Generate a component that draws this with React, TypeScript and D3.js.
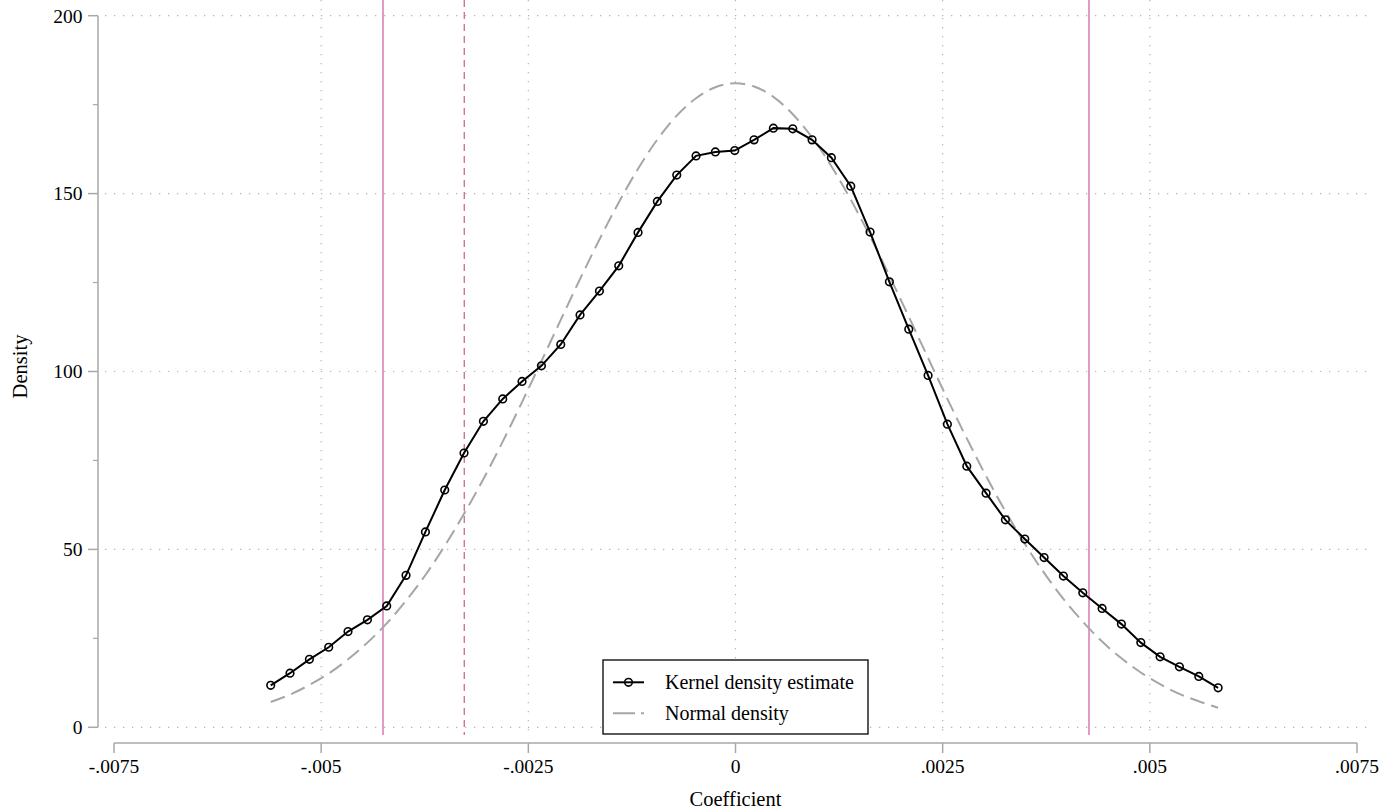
import React from "react";
import * as d3 from "d3";

// grid of the kernel estimate (50 points)
const gridX = [
  -0.005609, -0.005376, -0.005142, -0.004909, -0.004676, -0.004442, -0.004209, -0.003976, -0.003742, -0.003509,
  -0.003276, -0.003042, -0.002809, -0.002576, -0.002342, -0.002109, -0.001876, -0.001642, -0.001409, -0.001176,
  -0.000943, -0.000709, -0.000476, -0.000243, -0.000009, 0.000224, 0.000457, 0.000691, 0.000924, 0.001157,
  0.001391, 0.001624, 0.001857, 0.002091, 0.002324, 0.002557, 0.002791, 0.003024, 0.003257, 0.003491,
  0.003724, 0.003957, 0.004191, 0.004424, 0.004657, 0.004891, 0.005124, 0.005357, 0.005591, 0.005824,
];

const kdeY = [
  11.8, 15.2, 19.1, 22.5, 26.9, 30.2, 34.1, 42.7, 54.9, 66.7,
  77.1, 86.0, 92.3, 97.2, 101.6, 107.6, 115.9, 122.6, 129.7, 139.1,
  147.8, 155.2, 160.6, 161.7, 162.1, 165.1, 168.4, 168.2, 165.1, 160.1,
  152.1, 139.2, 125.2, 111.9, 98.9, 85.2, 73.4, 65.8, 58.3, 52.9,
  47.7, 42.5, 37.8, 33.4, 29.0, 23.8, 19.8, 17.0, 14.3, 11.1,
];

const normalY = [
  7.1, 9.2, 11.9, 15.1, 19.1, 23.8, 29.2, 35.6, 42.8, 51.0,
  60.0, 69.8, 80.3, 91.4, 102.9, 114.5, 126.0, 137.1, 147.5, 157.0,
  165.2, 171.9, 176.8, 179.9, 181.0, 180.1, 177.2, 172.3, 165.8, 157.7,
  148.3, 138.0, 126.9, 115.4, 103.8, 92.3, 81.2, 70.6, 60.7, 51.6,
  43.4, 36.1, 29.7, 24.1, 19.4, 15.4, 12.1, 9.4, 7.3, 5.5,
];

const xTicks = [-0.0075, -0.005, -0.0025, 0, 0.0025, 0.005, 0.0075];
const xGrid = [-0.005, -0.0025, 0, 0.0025, 0.005];
const yTicks = [0, 50, 100, 150, 200];
const yMinor = [25, 75, 125, 175];

const solidLines = [-0.004254, 0.004266];
const dashedLines = [-0.003273];

const legendItems = ["Kernel density estimate", "Normal density"];

const fmtX = (d: number) => (d === 0 ? "0" : String(d).replace("0.", "."));

export default function App() {
  const W = 1395;
  const H = 812;
  const x = d3.scaleLinear().domain([-0.0075, 0.0075]).range([114, 1357]);
  const y = d3.scaleLinear().domain([0, 200]).range([727.3, 15.7]);

  const plotL = 105;
  const plotR = 1372;
  const plotT = 0;
  const plotB = 735;
  const xAxisY = 743;
  const yAxisX = 98;

  const line = d3
    .line<[number, number]>()
    .x((d) => x(d[0]))
    .y((d) => y(d[1]));

  const kdePts: [number, number][] = gridX.map((v, i) => [v, kdeY[i]]);
  const normPts: [number, number][] = gridX.map((v, i) => [v, normalY[i]]);

  const gridColor = "#b4b4b4";
  const axisColor = "#a8a8a8";
  const pink = "#d0669e";
  const font = "'Liberation Serif', 'Times New Roman', serif";

  const legX = 603;
  const legY = 660;
  const legW = 265;
  const legH = 74;
  const rowY = [682.3, 713.3];

  return (
    <div style={{ position: "absolute", left: 0, top: 0 }}>
      <svg width={W} height={H} style={{ display: "block", background: "#fff" }} fontFamily={font}>
        {/* grid */}
        <g stroke={gridColor} strokeWidth={1.2} strokeDasharray="1.3 7.7">
          {yTicks.map((t) => (
            <line key={"gy" + t} x1={plotL} x2={plotR} y1={y(t)} y2={y(t)} />
          ))}
          {xGrid.map((t) => (
            <line key={"gx" + t} x1={x(t)} x2={x(t)} y1={plotT} y2={plotB} />
          ))}
        </g>

        {/* xlines */}
        {solidLines.map((v) => (
          <line key={"s" + v} x1={x(v)} x2={x(v)} y1={plotT} y2={plotB} stroke={pink} strokeWidth={1.3} />
        ))}
        {dashedLines.map((v) => (
          <line
            key={"d" + v}
            x1={x(v)}
            x2={x(v)}
            y1={plotT}
            y2={plotB}
            stroke={pink}
            strokeWidth={1.3}
            strokeDasharray="7 5"
          />
        ))}

        {/* normal density */}
        <path
          d={line.curve(d3.curveCatmullRom)(normPts) || ""}
          fill="none"
          stroke="#a6a6a6"
          strokeWidth={2}
          strokeDasharray="15 7"
        />

        {/* kernel density */}
        <path d={line.curve(d3.curveLinear)(kdePts) || ""} fill="none" stroke="#000" strokeWidth={2} />
        {kdePts.map((p, i) => (
          <circle key={i} cx={x(p[0])} cy={y(p[1])} r={3.8} fill="none" stroke="#000" strokeWidth={1.6} />
        ))}

        {/* y axis */}
        <line x1={yAxisX} x2={yAxisX} y1={y(200)} y2={y(0)} stroke={axisColor} strokeWidth={1.5} />
        {yTicks.map((t) => (
          <g key={"yt" + t}>
            <line x1={yAxisX - 10} x2={yAxisX} y1={y(t)} y2={y(t)} stroke={axisColor} strokeWidth={1.5} />
            <text x={82.5} y={y(t)} dy="0.35em" textAnchor="end" fontSize={19.5} fill="#000">
              {t}
            </text>
          </g>
        ))}
        {yMinor.map((t) => (
          <line key={"ym" + t} x1={yAxisX - 5} x2={yAxisX} y1={y(t)} y2={y(t)} stroke={axisColor} strokeWidth={1.2} />
        ))}

        {/* x axis */}
        <line x1={x(-0.0075)} x2={x(0.0075)} y1={xAxisY} y2={xAxisY} stroke={axisColor} strokeWidth={1.5} />
        {xTicks.map((t) => (
          <g key={"xt" + t}>
            <line x1={x(t)} x2={x(t)} y1={xAxisY} y2={xAxisY + 10} stroke={axisColor} strokeWidth={1.5} />
            <text x={x(t)} y={773} textAnchor="middle" fontSize={19.5} fill="#000">
              {fmtX(t)}
            </text>
          </g>
        ))}

        {/* axis titles */}
        <text x={735.5} y={806} textAnchor="middle" fontSize={20.5} fill="#000">
          Coefficient
        </text>
        <text
          transform={`translate(26.5, 366.5) rotate(-90)`}
          textAnchor="middle"
          fontSize={20.5}
          fill="#000"
        >
          Density
        </text>

        {/* legend */}
        <rect x={legX} y={legY} width={legW} height={legH} fill="#fff" stroke="#000" strokeWidth={1.3} />
        <line x1={613} x2={644} y1={rowY[0]} y2={rowY[0]} stroke="#000" strokeWidth={2} />
        <circle cx={628.5} cy={rowY[0]} r={3.8} fill="none" stroke="#000" strokeWidth={1.6} />
        <line
          x1={613}
          x2={644}
          y1={rowY[1]}
          y2={rowY[1]}
          stroke="#a6a6a6"
          strokeWidth={2}
          strokeDasharray="22 6"
        />
        {legendItems.map((s, i) => (
          <text key={s} x={665} y={rowY[i]} dy="0.35em" fontSize={20} fill="#000">
            {s}
          </text>
        ))}
      </svg>
    </div>
  );
}
